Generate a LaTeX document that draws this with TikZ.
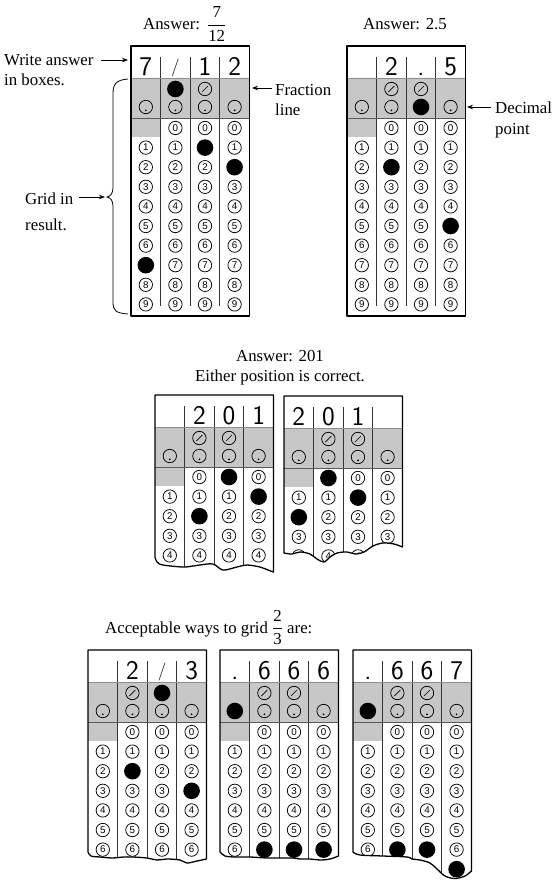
\documentclass[tikz,border=0pt]{standalone}
\usepackage{amsmath}
\usepackage{fontspec}
\setmainfont{Liberation Serif}
\newfontfamily\bubfont{Liberation Sans}
\usetikzlibrary{arrows.meta}

\newcommand\gridslash{\raisebox{2.5pt}{\fontsize{18}{18}\selectfont /}}

\tikzset{
 lbl/.style={font=\fontsize{16.8}{19}\selectfont, inner sep=0pt},
 bub/.style={circle, draw=black, line width=0.75pt, minimum size=13.4pt, inner sep=0pt, font=\bubfont\fontsize{9.8}{9.8}\selectfont},
 fillbub/.style={circle, fill=black, minimum size=16.6pt, inner sep=0pt},
 hdr/.style={font=\sffamily\fontsize{27}{27}\selectfont, inner sep=0pt},
 boxline/.style={draw=black, line width=1.3pt, line join=round},
 divline/.style={draw=black!80, line width=0.8pt},
 sepline/.style={draw=black!45, line width=0.6pt},
 sepline2/.style={draw=black!65, line width=0.9pt},
 graybg/.style={fill=black!22},
 arr/.style={-{Stealth[length=6pt,width=4.5pt]}, line width=0.7pt},
 bracel/.style={line width=0.8pt},
}

% #1 name, #2 x0, #3 y0, #4 last row, #5 headers, #6 filled col/row, #7 bottom outline (relative)
\newcommand\answergrid[7]{%
\begin{scope}[shift={(#2,#3)}]
 \begin{scope}
  \clip (0,0) -- (118.4,0) -- plot[smooth, tension=0.55] coordinates {#7} -- cycle;
  \fill[graybg] (0,32) rectangle (118.4,72);
  \fill[graybg] (0,72) rectangle (29.6,91);
  \foreach \cl in {1,2,3} \draw[divline] (\cl*29.6,32) -- (\cl*29.6,260);
  \draw[sepline] (0,32) -- (118.4,32);
  \draw[sepline2] (0,72) -- (118.4,72);
  \foreach \cl in {1,...,4}{%
   \pgfmathsetmacro\cx{(\cl-0.5)*29.6}
   \node[bub] (#1-d\cl) at (\cx,61) {};
   \fill (\cx,64.3) circle (0.95pt);
   \foreach \rw in {0,...,#4}{%
    \pgfmathsetmacro\ry{82+19.6*\rw}
    \ifnum\cl=1
      \ifnum\rw=0 \else \node[bub] (#1-\cl-\rw) at (\cx,\ry) {\rw};\fi
    \else
      \node[bub] (#1-\cl-\rw) at (\cx,\ry) {\rw};
    \fi
   }
  }
  \foreach \cl in {2,3}{%
   \pgfmathsetmacro\cx{(\cl-0.5)*29.6}
   \node[bub] (#1-s\cl) at (\cx,43) {};
   \draw[line width=0.65pt] ([shift={(-3,3)}]#1-s\cl.center) -- ([shift={(3,-3)}]#1-s\cl.center);
  }
  \foreach \cl/\rw in {#6}{%
   \pgfmathsetmacro\cx{(\cl-0.5)*29.6}
   \pgfmathsetmacro\ry{ifthenelse(\rw==-2,43,ifthenelse(\rw==-1,61,82+19.6*\rw))}
   \node[fillbub] (#1-f\cl-\rw) at (\cx,\ry) {};
  }
 \end{scope}
 \draw[boxline] (0,0) -- (118.4,0) -- plot[smooth, tension=0.55] coordinates {#7} -- cycle;
 \foreach \cl in {1,2,3} \draw[divline] (\cl*29.6,11) -- (\cl*29.6,32);
 \foreach \h [count=\cl] in {#5}{%
   \node[hdr, anchor=base] (#1-h\cl) at ({(\cl-0.5)*29.6},29) {\h};
 }
\end{scope}}

\begin{document}
\begin{tikzpicture}[x=1pt,y=-1pt]
\useasboundingbox (0,0) rectangle (558,883);
\fill[white] (0,0) rectangle (558,883);

% ---------- top section ----------
\node[lbl, anchor=base west] (ans1) at (143,29.5) {Answer:\hspace{7pt}$\dfrac{\text{7}}{\text{12}}$};
\node[lbl, anchor=base] (ans2) at (405,29.5) {Answer: 2.5};

\answergrid{g1}{131}{46}{9}{7,\gridslash,1,2}{2/-2,3/1,4/2,1/7}{(118.4,270) (0,270)}
\answergrid{g2}{347}{46}{9}{{},2,.,5}{3/-1,2/2,4/5}{(118.4,270) (0,270)}

\node[lbl, anchor=base west] (wa1) at (4,66) {Write answer};
\node[lbl, anchor=base west] (wa2) at (4,85) {in boxes.};
\coordinate (wa-s) at (101,60);
\coordinate (wa-e) at (128,60);
\draw[arr] (wa-s) -- (wa-e);

\node[lbl, anchor=base west] (fl1) at (275,95) {Fraction};
\node[lbl, anchor=base west] (fl2) at (275,115) {line};
\coordinate (fl-s) at (272,88);
\coordinate (fl-e) at (252,88);
\draw[arr] (fl-s) -- (fl-e);

\node[lbl, anchor=base west] (dp1) at (495,113.5) {Decimal};
\node[lbl, anchor=base west] (dp2) at (495,134) {point};
\coordinate (dp-s) at (491,107);
\coordinate (dp-e) at (467,107);
\draw[arr] (dp-s) -- (dp-e);

\node[lbl, anchor=base west] (gi1) at (25,204) {Grid in};
\node[lbl, anchor=base west] (gi2) at (25,230) {result.};
\coordinate (gi-s) at (79,197);
\coordinate (gi-e) at (105,197);
\draw[arr] (gi-s) -- (gi-e);

\coordinate (br-top) at (128,79);
\coordinate (br-tip) at (107,197);
\coordinate (br-bot) at (128,314);
\draw[bracel] (br-top) .. controls (116,80) and (113,84) .. (113,94)
  -- (113,186) .. controls (113,194) and (111,196) .. (br-tip)
  .. controls (111,198) and (113,200) .. (113,208)
  -- (113,302) .. controls (113,311) and (116,313) .. (br-bot);

% ---------- middle section ----------
\node[lbl, anchor=base] (ans3) at (280,361.5) {Answer: 201};
\node[lbl, anchor=base] (either) at (280,381) {Either position is correct.};

\answergrid{g3}{155}{395}{4}{{},2,0,1}{2/2,3/0,4/1}
 {(118.4,177) (113,175) (105,172) (92,170) (82,172) (68,175) (58,169) (45,170) (38,171) (28,172) (8,170) (2,167) (0,162)}
\answergrid{g4}{284}{396}{4}{2,0,1,{}}{1/2,2/0,3/1}
 {(118.4,151) (110,148) (99,147) (89,150) (80,156) (72,158) (63,156) (53,157) (46,161) (40,166) (33,163) (26,158) (16,156) (8,158) (0,157)}

% ---------- bottom section ----------
\node[lbl, anchor=base west] (acc) at (105,633) {Acceptable ways to grid $\dfrac{\text{2}}{\text{3}}$ are:};

\answergrid{g5}{88}{650}{6}{{},2,\gridslash,3}{3/-2,2/2,4/3}
 {(118.4,209) (109,211) (99,213) (92,210) (79,209) (69,210) (59,208) (45,207) (35,207) (25,208) (12,207) (3,206) (0,202)}
\answergrid{g6}{220}{650}{6}{.,6,6,6}{1/-1,2/6,3/6,4/6}
 {(118.4,206) (110,209) (100,210) (90,209) (80,209) (73,208) (60,208) (47,208) (30,207) (15,207) (5,206) (0,202)}
\answergrid{g7}{353}{650}{6}{.,6,6,7}{1/-1,2/6,3/6,4/7}
 {(118.4,221) (112,226) (102,228.5) (92,226) (84,219) (77,213) (67,210) (59,209) (54,207) (30,206) (7,205) (0,202)}

\end{tikzpicture}
\end{document}
